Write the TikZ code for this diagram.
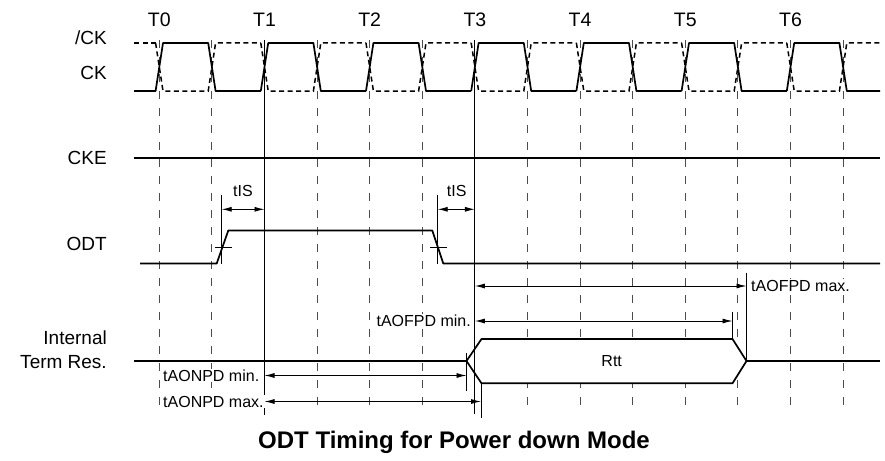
\documentclass[tikz,border=0pt]{standalone}
\usepackage{fontspec}
\setmainfont{Liberation Sans}
\usetikzlibrary{arrows.meta}

\begin{document}
\begin{tikzpicture}[x=1pt, y=-1pt,
  sig/.style={line width=1.7pt, line join=round},
  sigdash/.style={line width=1.5pt, dash pattern=on 5pt off 3.5pt},
  gridline/.style={black!70, line width=1.1pt, dash pattern=on 8pt off 9pt},
  refline/.style={line width=1.1pt},
  tickline/.style={line width=0.9pt},
  dim/.style={line width=0.9pt, {Latex[length=10pt,width=5pt]}-{Latex[length=10pt,width=5pt]}},
  siglabel/.style={font=\fontsize{19}{24}\selectfont, anchor=east, align=right, inner sep=0pt},
  tlabel/.style={font=\fontsize{19.5}{24}\selectfont, inner sep=0pt},
  ann/.style={font=\fontsize{16}{19}\selectfont, inner sep=1pt}]
  \useasboundingbox (0,0) rectangle (885,460);
  \def\cz{159.3} \def\hp{52.6} \def\tr{3.7}

  % clock grid
  \foreach \k in {0,...,13}{
    \draw[gridline] ({\cz+\k*\hp},40) -- ({\cz+\k*\hp},410);
  }
  \foreach \i in {0,...,6}{
    \node[tlabel] (T\i) at ({\cz+2*\i*\hp},20) {T\i};
  }

  % CK and /CK
  \draw[sig] (134,91) -- ({\cz-\tr},91);
  \draw[sigdash] (134,43) -- ({\cz-\tr},43);
  \foreach \k in {0,2,...,12}{
    \pgfmathsetmacro{\ra}{\cz+\k*\hp}
    \pgfmathsetmacro{\fa}{\ra+\hp}
    \pgfmathsetmacro{\nx}{min(\fa+\hp-\tr,880)}
    \draw[sig] ({\ra-\tr},91) -- ({\ra+\tr},43) -- ({\fa-\tr},43) -- ({\fa+\tr},91) -- (\nx,91);
    \draw[sigdash] ({\ra-\tr},43) -- ({\ra+\tr},91) -- ({\fa-\tr},91) -- ({\fa+\tr},43) -- (\nx,43);
  }

  % CKE, ODT
  \draw[sig] (134,158) -- (880,158);
  \draw[sig] (140,263.5) -- (216.7,263.5) -- (228.3,230.5) -- (432.3,230.5) -- (443.3,263.5) -- (880,263.5);
  \draw[tickline] (215,247) -- (231.7,247);
  \draw[tickline] (430,247) -- (446.7,247);

  % internal termination
  \draw[sig] (134,361) -- (466.5,361);
  \draw[sig] (746.5,361) -- (880,361);
  \draw[sig, fill=white] (466.5,361) -- (481.5,339) -- (732.5,339) -- (746.5,361)
    -- (732.5,383.3) -- (481.5,383.3) -- cycle;
  \node[ann] (rtt) at (611.7,361.5) {Rtt};

  % reference and marker lines
  \foreach \x/\ya/\yb in {264.5/40/415, 474.9/40/414}
    \draw[refline] (\x,\ya) -- (\x,\yb);
  \foreach \x/\ya/\yb in {221.7/195/263.5, 437.7/195/263.5, 746.5/272.7/361,
                          732.5/311.7/339, 466.5/353/391, 481/383.3/418}
    \draw[tickline] (\x,\ya) -- (\x,\yb);

  % timing arrows
  \foreach \xa/\xb/\y in {221.7/264.5/209.3, 437.7/474.9/209.3, 474.9/746.5/286,
                          474.9/732.5/321, 264.5/466.5/375.5, 264.5/481/401.5}
    \draw[dim] (\xa,\y) -- (\xb,\y);

  \node[ann] (tisa) at (243,191) {tIS};
  \node[ann] (tisb) at (456.7,191) {tIS};
  \node[ann, anchor=west, fill=white] (offmax) at (750,286) {tAOFPD max.};
  \node[ann, anchor=east, fill=white] (offmin) at (472,321) {tAOFPD min.};
  \node[ann, anchor=west, fill=white] (onmin) at (162,375.5) {tAONPD min.};
  \node[ann, anchor=west, fill=white] (onmax) at (162,401.5) {tAONPD max.};

  % signal names
  \node[siglabel] (lckb) at (107,38) {/CK};
  \node[siglabel] (lck) at (107,73) {CK};
  \node[siglabel] (lcke) at (107,158) {CKE};
  \node[siglabel] (lodt) at (107,244) {ODT};
  \node[siglabel] (lterm) at (107,350) {Internal\\Term Res.};

  \node[font=\bfseries\fontsize{24}{28}\selectfont] (caption) at (454,442) {ODT Timing for Power down Mode};
\end{tikzpicture}
\end{document}
